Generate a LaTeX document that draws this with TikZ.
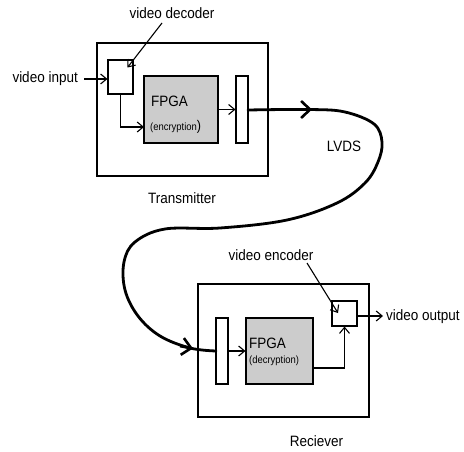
\documentclass[tikz,border=0pt]{standalone}
\usepackage{fontspec}
\setmainfont[FakeStretch=0.9]{Liberation Sans}
\usetikzlibrary{arrows.meta}
\begin{document}
\begin{tikzpicture}[x=1pt,y=-1pt,
  box/.style={draw,line width=1.1pt,inner sep=0pt,minimum width=#1},
  fpgabox/.style={draw,line width=1.1pt,fill=black!20,inner sep=0pt},
  lbl/.style={inner sep=0pt,font=\fontsize{15}{18}\selectfont},
  conn/.style={line width=1.1pt,-{Straight Barb[length=6pt,width=10pt,line width=1.1pt]}},
  thick/.style={line width=2.8pt,line cap=round},
  thickarr/.style={line width=2.8pt,-{Straight Barb[length=9pt,width=17pt,line width=2.6pt]}}
]
\useasboundingbox (0,0) rectangle (464,452);
% Transmitter
\node[box=171pt,minimum height=133pt] (tx) at (182.5,109.5) {};
\node[box=25pt,minimum height=34pt] (dec) at (120.5,77) {};
\node[fpgabox,minimum width=74pt,minimum height=67pt] (fpga1) at (181,109.5) {};
\node[box=12pt,minimum height=67pt] (bar1) at (242,109.5) {};
\node[lbl,anchor=west] (f1t) at (151,101) {FPGA};
\node[inner sep=0pt,anchor=west] (f1s) at (150,127) {{\fontsize{10.5}{12}\selectfont(encryption}{\fontsize{14}{16}\selectfont)}};
\node[lbl] (txl) at (182,198) {Transmitter};
\node[lbl,anchor=east] (vin) at (78,79) {video input};
\node[lbl] (declbl) at (172,13) {video decoder};
\coordinate (vinend) at (84,79);
\coordinate (decfrom) at (162,23);
\coordinate (decto) at (127.5,67.5);
\coordinate (f1in) at (144,127);
\draw[conn] (vinend) -- (dec.west |- vinend);
\draw[conn] (decfrom) -- (decto);
\draw[conn] (dec.south) |- (f1in);
\draw[conn] (fpga1.east) -- (bar1.west);
% Receiver
\node[box=171pt,minimum height=133pt] (rx) at (283.5,350.5) {};
\node[box=12pt,minimum height=66pt] (bar2) at (222,351) {};
\node[fpgabox,minimum width=67pt,minimum height=66pt] (fpga2) at (279.5,351) {};
\node[box=25pt,minimum height=25pt] (enc) at (344.5,313.5) {};
\node[lbl,anchor=west] (f2t) at (249,343) {FPGA};
\node[inner sep=0pt,anchor=west,font=\fontsize{10.5}{12}\selectfont] (f2s) at (249,361) {(decryption)};
\node[lbl] (rxl) at (316.5,441) {Reciever};
\node[lbl,anchor=west] (vout) at (386,317) {video output};
\node[lbl] (enclbl) at (271,255) {video encoder};
\coordinate (encfrom) at (307,263);
\coordinate (encto) at (338,313);
\coordinate (f2out) at (313,368);
\coordinate (voutend) at (383,316);
\draw[conn] (bar2.east) -- (fpga2.west);
\draw[conn] (f2out) -| (enc.south);
\draw[conn] (enc.east |- voutend) -- (voutend);
\draw[conn] (encfrom) -- (encto);
% LVDS
\coordinate (l0) at (248,110);
\coordinate (l9) at (216,351);
\draw[thick] plot[smooth,tension=0.6] coordinates {(l0) (310,109.5) (345,112) (374,124) (382,142) (378,162) (365,183) (337,203) (287,220) (220,228) (165,229) (135,242) (124,262) (125,290) (138,316) (160,336) (190,348) (l9)};
\draw[thickarr] (298,109.5) -- (312,109.5);
\draw[thickarr] (180,346) -- (193,348.5);
\node[lbl] (lvds) at (344,146) {LVDS};
\end{tikzpicture}
\end{document}
